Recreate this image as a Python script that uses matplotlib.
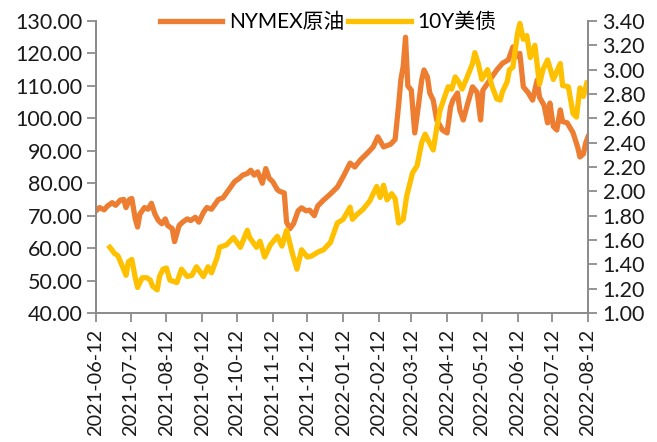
import matplotlib
matplotlib.use("Agg")
import matplotlib.pyplot as plt
import matplotlib.dates as mdates
import pandas as pd

plt.rcParams['font.family'] = ['Lato', 'Noto Sans CJK SC', 'DejaVu Sans']

# NYMEX crude oil (left axis)
oil_dates = [
    "2021-06-12", "2021-06-15", "2021-06-19", "2021-06-22", "2021-06-26", "2021-06-29",
    "2021-07-03", "2021-07-06", "2021-07-08", "2021-07-11", "2021-07-13", "2021-07-16",
    "2021-07-18", "2021-07-20", "2021-07-24", "2021-07-27", "2021-07-30", "2021-08-02",
    "2021-08-05", "2021-08-08", "2021-08-11", "2021-08-13", "2021-08-17", "2021-08-19",
    "2021-08-23", "2021-08-26", "2021-08-30", "2021-09-02", "2021-09-06", "2021-09-09",
    "2021-09-13", "2021-09-16", "2021-09-20", "2021-09-23", "2021-09-26", "2021-09-30",
    "2021-10-03", "2021-10-07", "2021-10-10", "2021-10-14", "2021-10-17", "2021-10-21",
    "2021-10-24", "2021-10-27", "2021-10-30", "2021-11-03", "2021-11-06", "2021-11-09",
    "2021-11-12", "2021-11-16", "2021-11-18", "2021-11-22", "2021-11-24", "2021-11-27",
    "2021-11-30", "2021-12-04", "2021-12-07", "2021-12-11", "2021-12-14", "2021-12-18",
    "2021-12-21", "2021-12-26", "2022-01-01", "2022-01-07", "2022-01-12", "2022-01-18",
    "2022-01-22", "2022-01-27", "2022-02-02", "2022-02-07", "2022-02-11", "2022-02-16",
    "2022-02-22", "2022-02-26", "2022-03-01", "2022-03-03", "2022-03-05", "2022-03-07",
    "2022-03-09", "2022-03-12", "2022-03-15", "2022-03-18", "2022-03-21", "2022-03-23",
    "2022-03-26", "2022-03-28", "2022-03-31", "2022-04-03", "2022-04-08", "2022-04-12",
    "2022-04-15", "2022-04-17", "2022-04-21", "2022-04-23", "2022-04-26", "2022-04-29",
    "2022-05-04", "2022-05-08", "2022-05-11", "2022-05-13", "2022-05-19", "2022-05-25",
    "2022-05-30", "2022-06-04", "2022-06-08", "2022-06-12", "2022-06-14", "2022-06-17",
    "2022-06-21", "2022-06-25", "2022-06-29", "2022-07-01", "2022-07-05", "2022-07-08",
    "2022-07-10", "2022-07-13", "2022-07-16", "2022-07-19", "2022-07-21", "2022-07-25",
    "2022-07-27", "2022-07-30", "2022-08-03", "2022-08-05", "2022-08-08", "2022-08-10",
    "2022-08-12",
]
oil_values = [
    71.5, 72.5, 71.8, 73.0, 74.0, 73.2,
    74.8, 75.0, 72.5, 75.0, 75.3, 69.0,
    66.5, 70.5, 72.5, 72.0, 73.8, 70.5,
    68.5, 67.5, 69.0, 67.0, 66.0, 62.0,
    67.0, 68.0, 69.0, 68.5, 69.5, 68.0,
    71.0, 72.5, 72.0, 73.5, 75.0, 75.5,
    77.0, 79.0, 80.5, 81.5, 82.5, 83.0,
    84.0, 82.5, 83.5, 80.0, 84.5, 81.5,
    80.5, 78.0, 77.5, 77.0, 68.0, 66.0,
    67.5, 71.5, 72.4, 71.5, 71.7, 70.0,
    73.0, 74.8, 76.7, 78.8, 82.0, 86.2,
    85.0, 87.2, 89.3, 91.2, 94.3, 91.2,
    92.0, 93.5, 104.0, 112.0, 116.0, 125.0,
    110.0, 108.7, 95.5, 103.5, 111.8, 114.9,
    112.7, 107.8, 105.6, 99.5, 96.4, 95.5,
    103.5, 105.6, 107.8, 102.6, 99.5, 103.5,
    109.7, 108.0, 99.5, 108.7, 111.8, 114.9,
    117.0, 118.0, 122.0, 119.0, 120.0, 109.7,
    108.0, 105.6, 111.8, 106.5, 104.0, 98.6,
    104.7, 97.5, 96.4, 102.6, 99.0, 98.6,
    97.4, 95.6, 91.2, 88.1, 89.0, 92.4,
    94.3,
]

# 10Y US Treasury yield (right axis)
ust_dates = [
    "2021-06-24", "2021-06-28", "2021-07-01", "2021-07-05", "2021-07-08", "2021-07-10",
    "2021-07-13", "2021-07-16", "2021-07-18", "2021-07-22", "2021-07-26", "2021-07-29",
    "2021-07-31", "2021-08-04", "2021-08-06", "2021-08-09", "2021-08-12", "2021-08-15",
    "2021-08-21", "2021-08-25", "2021-08-30", "2021-09-03", "2021-09-07", "2021-09-13",
    "2021-09-17", "2021-09-20", "2021-09-25", "2021-09-27", "2021-10-03", "2021-10-09",
    "2021-10-15", "2021-10-21", "2021-10-23", "2021-10-29", "2021-11-01", "2021-11-05",
    "2021-11-10", "2021-11-16", "2021-11-20", "2021-11-24", "2021-11-29", "2021-12-03",
    "2021-12-07", "2021-12-12", "2021-12-16", "2021-12-21", "2021-12-26", "2022-01-01",
    "2022-01-07", "2022-01-12", "2022-01-18", "2022-01-20", "2022-01-24", "2022-01-29",
    "2022-02-04", "2022-02-10", "2022-02-13", "2022-02-16", "2022-02-19", "2022-02-23",
    "2022-02-26", "2022-03-01", "2022-03-05", "2022-03-08", "2022-03-13", "2022-03-17",
    "2022-03-21", "2022-03-24", "2022-03-26", "2022-03-31", "2022-04-03", "2022-04-06",
    "2022-04-10", "2022-04-13", "2022-04-16", "2022-04-19", "2022-04-22", "2022-04-25",
    "2022-04-29", "2022-05-04", "2022-05-06", "2022-05-09", "2022-05-12", "2022-05-17",
    "2022-05-21", "2022-05-25", "2022-05-28", "2022-05-30", "2022-06-03", "2022-06-05",
    "2022-06-08", "2022-06-12", "2022-06-14", "2022-06-17", "2022-06-20", "2022-06-23",
    "2022-06-27", "2022-07-01", "2022-07-04", "2022-07-08", "2022-07-13", "2022-07-19",
    "2022-07-21", "2022-07-26", "2022-07-30", "2022-08-02", "2022-08-05", "2022-08-08",
    "2022-08-11",
]
ust_values = [
    1.54, 1.49, 1.47, 1.38, 1.31, 1.42,
    1.44, 1.29, 1.21, 1.29, 1.29, 1.27,
    1.22, 1.19, 1.30, 1.36, 1.37, 1.27,
    1.25, 1.36, 1.30, 1.31, 1.38, 1.30,
    1.38, 1.33, 1.46, 1.54, 1.56, 1.62,
    1.54, 1.68, 1.62, 1.54, 1.59, 1.46,
    1.56, 1.63, 1.55, 1.68, 1.49, 1.36,
    1.52, 1.46, 1.47, 1.50, 1.52, 1.58,
    1.74, 1.77, 1.87, 1.77, 1.81, 1.85,
    1.92, 2.04, 1.95, 2.05, 1.93, 1.98,
    1.94, 1.74, 1.77, 1.96, 2.15, 2.21,
    2.40, 2.47, 2.43, 2.34, 2.52, 2.67,
    2.78, 2.86, 2.84, 2.94, 2.90, 2.84,
    2.93, 3.05, 3.14, 3.05, 2.92, 3.00,
    2.86, 2.76, 2.75, 2.82, 2.90, 3.00,
    3.02, 3.30, 3.38, 3.25, 3.28, 3.10,
    3.20, 2.88, 3.00, 3.08, 2.92, 3.05,
    2.87, 2.86, 2.64, 2.61, 2.85, 2.78,
    2.89,
]

# x ticks on the 12th of every month
tick_dates = pd.date_range("2021-06-01", "2022-08-01", freq="MS") + pd.Timedelta(days=11)

oil_x = pd.to_datetime(oil_dates)
ust_x = pd.to_datetime(ust_dates)

orange = '#ED7D31'
yellow = '#FFC000'
axis_gray = '#8C8C8C'
text_color = '#1a1a1a'

fig = plt.figure(figsize=(6.57, 4.42), dpi=100)
ax = fig.add_axes([96 / 657, 1 - 313 / 442, (588 - 96) / 657, (313 - 21) / 442])
ax2 = ax.twinx()

l1, = ax.plot(oil_x, oil_values, color=orange, linewidth=3.8, solid_joinstyle='round',
              label='NYMEX原油')
l2, = ax2.plot(ust_x, ust_values, color=yellow, linewidth=3.8, solid_joinstyle='round',
               label='10Y美债')

ax.set_xlim(pd.Timestamp("2021-06-12"), pd.Timestamp("2022-08-12"))
ax.set_ylim(40, 130)
ax2.set_ylim(1.0, 3.4)
ax.set_yticks(range(40, 131, 10))
ax2.set_yticks([1.0 + 0.2 * i for i in range(13)])
ax.yaxis.set_major_formatter(plt.FormatStrFormatter('%.2f'))
ax2.yaxis.set_major_formatter(plt.FormatStrFormatter('%.2f'))

ax.set_xticks(tick_dates)
ax.xaxis.set_major_formatter(mdates.DateFormatter('%Y-%m-%d'))
for lbl in ax.get_xticklabels():
    lbl.set_rotation(90)

for a in (ax, ax2):
    a.spines['top'].set_visible(False)
    for s in ('left', 'right', 'bottom'):
        a.spines[s].set_color(axis_gray)
        a.spines[s].set_linewidth(1.3)
    a.tick_params(axis='both', colors=axis_gray, labelcolor=text_color,
                  length=6.5, width=1.3, direction='out')
ax.tick_params(axis='x', labelsize=14.3, pad=5)
ax.tick_params(axis='y', labelsize=15.5, pad=3)
ax2.tick_params(axis='y', labelsize=15.5, pad=4)

fig.legend(handles=[l1, l2], loc='center', bbox_to_anchor=(328 / 657, 1 - 22 / 442),
           ncol=2, frameon=False, fontsize=15, handlelength=3.0, handletextpad=0.3,
           columnspacing=0.2, borderaxespad=0)

fig.savefig("out.png", dpi=100)
